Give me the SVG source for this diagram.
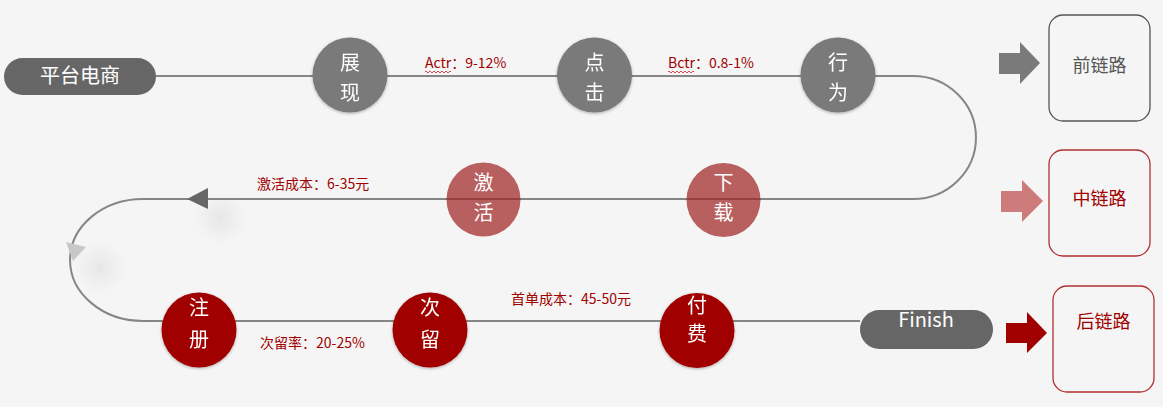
<svg xmlns="http://www.w3.org/2000/svg" width="1163" height="407" viewBox="0 0 1163 407">
<defs>
<style>
.lbl{font-family:"Noto Sans CJK SC","Liberation Sans",sans-serif;font-size:14px;fill:#a00000}
.ct{font-family:"Noto Sans CJK SC","Liberation Sans",sans-serif;font-size:20px;fill:#ffffff;text-anchor:middle}
.bt{font-family:"Noto Sans CJK SC","Liberation Sans",sans-serif;font-size:18px;text-anchor:middle}
.ln{fill:none;stroke:#868686;stroke-width:2}
</style>
<filter id="sh" x="-20%" y="-20%" width="140%" height="140%">
<feDropShadow dx="0" dy="1" stdDeviation="1.5" flood-color="#000" flood-opacity="0.3"/>
</filter>
<radialGradient id="blob">
<stop offset="0" stop-color="#e6e6e6" stop-opacity="1"/>
<stop offset="0.5" stop-color="#ececec" stop-opacity="0.6"/>
<stop offset="1" stop-color="#f5f5f5" stop-opacity="0"/>
</radialGradient>
</defs>
<rect width="1163" height="407" fill="#f5f5f5"/>

<g id="connectors">
<circle cx="220" cy="218" r="32" fill="url(#blob)"/>
<circle cx="100" cy="268" r="32" fill="url(#blob)"/>
<path class="ln" d="M156 76 H913 A63 61.5 0 0 1 913 199 H143 A73 61 0 0 0 143 321 H860"/>
<polygon points="187,199 208,188 208,209" fill="#666666"/>
<polygon points="66,242 86,247 73,261" fill="#c8c8c8"/>
<path d="M425 72 q1 -2 2 0 t2 0 t2 0 t2 0 t2 0 t2 0 t2 0 t2 0 t2 0 t2 0 t2 0 t2 0 t2 0" fill="none" stroke="#d02020" stroke-width="0.8"/>
<path d="M668 72 q1 -2 2 0 t2 0 t2 0 t2 0 t2 0 t2 0 t2 0 t2 0 t2 0 t2 0 t2 0 t2 0 t2 0" fill="none" stroke="#d02020" stroke-width="0.8"/>
<text class="lbl" x="425" y="68">Actr：9-12%</text>
<text class="lbl" x="668" y="68">Bctr：0.8-1%</text>
<text class="lbl" x="257" y="189">激活成本：6-35元</text>
<text class="lbl" x="260" y="348">次留率：20-25%</text>
<text class="lbl" x="511" y="304">首单成本：45-50元</text>
</g>

<g id="start">
<rect x="4" y="58" width="152" height="37" rx="18.5" fill="#666666"/>
<text class="ct" x="80" y="83">平台电商</text>
</g>

<g id="zhanxian" filter="url(#sh)">
<circle cx="350" cy="75" r="37.5" fill="#7a7a7a"/>
<text class="ct" x="350" y="70">展</text>
<text class="ct" x="350" y="100">现</text>
</g>
<g id="dianji" filter="url(#sh)">
<circle cx="594.5" cy="75" r="37.5" fill="#7a7a7a"/>
<text class="ct" x="594.5" y="70">点</text>
<text class="ct" x="594.5" y="100">击</text>
</g>
<g id="xingwei" filter="url(#sh)">
<circle cx="838" cy="75" r="37.5" fill="#7a7a7a"/>
<text class="ct" x="838" y="70">行</text>
<text class="ct" x="838" y="100">为</text>
</g>

<g id="jihuo">
<circle cx="483.5" cy="199.5" r="37" fill="#9e2020" fill-opacity="0.7"/>
<text class="ct" x="483.5" y="190">激</text>
<text class="ct" x="483.5" y="220">活</text>
</g>
<g id="xiazai">
<circle cx="723.5" cy="200" r="37" fill="#9e2020" fill-opacity="0.7"/>
<text class="ct" x="723.5" y="190">下</text>
<text class="ct" x="723.5" y="220">载</text>
</g>

<g id="zhuce" filter="url(#sh)">
<circle cx="199" cy="330" r="37.5" fill="#a00000"/>
<text class="ct" x="199" y="315">注</text>
<text class="ct" x="199" y="347">册</text>
</g>
<g id="ciliu" filter="url(#sh)">
<circle cx="430" cy="330" r="37.5" fill="#a00000"/>
<text class="ct" x="430" y="315">次</text>
<text class="ct" x="430" y="347">留</text>
</g>
<g id="fufei" filter="url(#sh)">
<circle cx="697" cy="330.5" r="37.5" fill="#a00000"/>
<text class="ct" x="697" y="313">付</text>
<text class="ct" x="697" y="341">费</text>
</g>

<g id="finish">
<rect x="860" y="310" width="133" height="39" rx="19.5" fill="#666666"/>
<text class="ct" x="926" y="327">Finish</text>
</g>

<g id="arrow-front">
<polygon points="999,53 1020,53 1020,42 1040,63 1020,84 1020,74 999,74" fill="#7a7a7a"/>
</g>
<g id="arrow-mid">
<polygon points="1001,191 1022,191 1022,180 1043,201 1022,222 1022,212 1001,212" fill="#cd7b7b"/>
</g>
<g id="arrow-back">
<polygon points="1006,323 1027,323 1027,312 1047,333 1027,353 1027,343 1006,343" fill="#a00000"/>
</g>

<g id="qianlianlu">
<rect x="1049" y="15" width="101" height="106" rx="14" fill="none" stroke="#555555" stroke-width="1.3"/>
<text class="bt" x="1099.5" y="72" fill="#555555">前链路</text>
</g>
<g id="zhonglianlu">
<rect x="1049" y="150" width="101" height="106" rx="14" fill="none" stroke="#b03030" stroke-width="1.3"/>
<text class="bt" x="1099.5" y="205" fill="#a00000">中链路</text>
</g>
<g id="houlianlu">
<rect x="1053" y="286" width="101" height="106" rx="14" fill="none" stroke="#b03030" stroke-width="1.3"/>
<text class="bt" x="1103.5" y="328" fill="#a00000">后链路</text>
</g>
</svg>
